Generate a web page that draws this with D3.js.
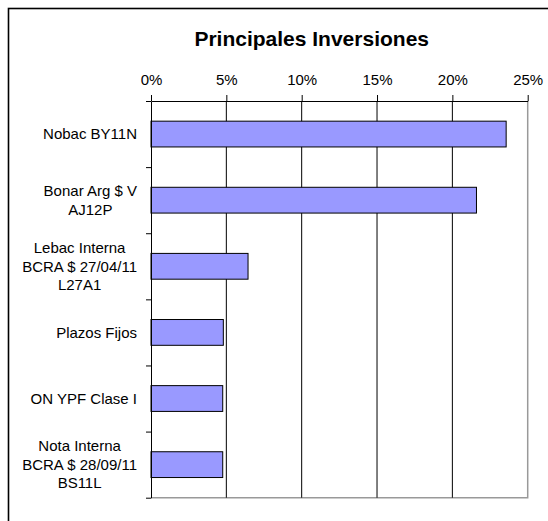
<!DOCTYPE html>
<html>
<head>
  <meta charset="utf-8">
  <script src="https://d3js.org/d3.v7.min.js"></script>
  <style>
    body { margin: 0; background: #fff; }
    text { font-family: Arial, "Liberation Sans", sans-serif; fill: #000; }
  </style>
</head>
<body>
  <div id="chart"></div>
  <script>
    // chart data
    const categories = [
      ["Nobac BY11N"],
      ["Bonar Arg $ V", "AJ12P"],
      ["Lebac Interna", "BCRA $ 27/04/11", "L27A1"],
      ["Plazos Fijos"],
      ["ON YPF Clase I"],
      ["Nota Interna", "BCRA $ 28/09/11", "BS11L"]
    ];
    const shares = [0.2357, 0.216, 0.0644, 0.048, 0.0476, 0.0476];
    const tickValues = [0, 0.05, 0.10, 0.15, 0.20, 0.25];
    const title = "Principales Inversiones";

    const data = categories.map((lines, i) => ({ key: i, lines: lines, value: shares[i] }));

    const W = 548, H = 521;
    const plot = { left: 151, right: 527.7, top: 101, bottom: 497.7 };

    const svg = d3.select("#chart")
      .append("svg")
      .attr("width", W)
      .attr("height", H);

    // outer chart frame (runs off the right and bottom edges)
    svg.append("rect")
      .attr("x", 8.5).attr("y", 8.5)
      .attr("width", 600).attr("height", 600)
      .attr("fill", "#fff")
      .attr("stroke", "#000")
      .attr("stroke-width", 1.6);

    svg.append("text")
      .attr("x", 311.7)
      .attr("y", 46)
      .attr("text-anchor", "middle")
      .style("font-size", "21px")
      .style("font-weight", "bold")
      .text(title);

    const x = d3.scaleLinear()
      .domain([0, 0.25])
      .range([plot.left, plot.right]);

    const y = d3.scaleBand()
      .domain(data.map(d => d.key))
      .range([plot.top, plot.bottom])
      .paddingInner(0.61)
      .paddingOuter(0.305);

    const yEdge = d3.scaleLinear()
      .domain([0, categories.length])
      .range([plot.top, plot.bottom]);

    // plot area border (grey) right and bottom
    svg.append("path")
      .attr("d", `M${plot.left},${plot.bottom}H${plot.right}V${plot.top}`)
      .attr("fill", "none")
      .attr("stroke", "#999")
      .attr("stroke-width", 1.5);

    // gridlines
    svg.append("g")
      .selectAll("line")
      .data(tickValues.slice(1, -1))
      .enter()
      .append("line")
      .attr("x1", d => x(d)).attr("x2", d => x(d))
      .attr("y1", plot.top).attr("y2", plot.bottom)
      .attr("stroke", "#000")
      .attr("stroke-width", 1);

    // bars
    svg.selectAll(".bar")
      .data(data)
      .enter()
      .append("rect")
      .attr("class", "bar")
      .attr("x", x(0))
      .attr("y", d => y(d.key))
      .attr("width", d => x(d.value) - x(0))
      .attr("height", y.bandwidth())
      .attr("fill", "#9999ff")
      .attr("stroke", "#000")
      .attr("stroke-width", 1);

    // value axis on top
    const xAxis = svg.append("g")
      .attr("transform", `translate(0,${plot.top})`)
      .call(d3.axisTop(x)
        .tickValues(tickValues)
        .tickFormat(d3.format(".0%"))
        .tickSizeInner(6)
        .tickSizeOuter(0)
        .tickPadding(10));
    xAxis.selectAll("text")
      .style("font-size", "15px")
      .attr("font-family", null);
    xAxis.selectAll("line, path").attr("stroke", "#000");

    // category axis on left, ticks on category boundaries
    const yAxis = svg.append("g")
      .attr("transform", `translate(${plot.left},0)`)
      .call(d3.axisLeft(yEdge)
        .tickValues(d3.range(categories.length + 1))
        .tickFormat("")
        .tickSizeInner(5)
        .tickSizeOuter(0));
    yAxis.selectAll("line, path").attr("stroke", "#000");

    // category labels: lines centred on each other, block right aligned
    const lineH = 18.6;
    const labels = svg.append("g");
    data.forEach(d => {
      const cy = y(d.key) + y.bandwidth() / 2;
      const g = labels.append("g");
      const t = g.selectAll("text")
        .data(d.lines)
        .enter()
        .append("text")
        .style("font-size", "15px")
        .attr("text-anchor", "middle")
        .attr("dy", "0.35em")
        .attr("y", (l, i) => cy + (i - (d.lines.length - 1) / 2) * lineH)
        .text(l => l);
      const maxW = d3.max(t.nodes(), n => n.getComputedTextLength());
      t.attr("x", plot.left - 14 - maxW / 2);
    });
  </script>
</body>
</html>
